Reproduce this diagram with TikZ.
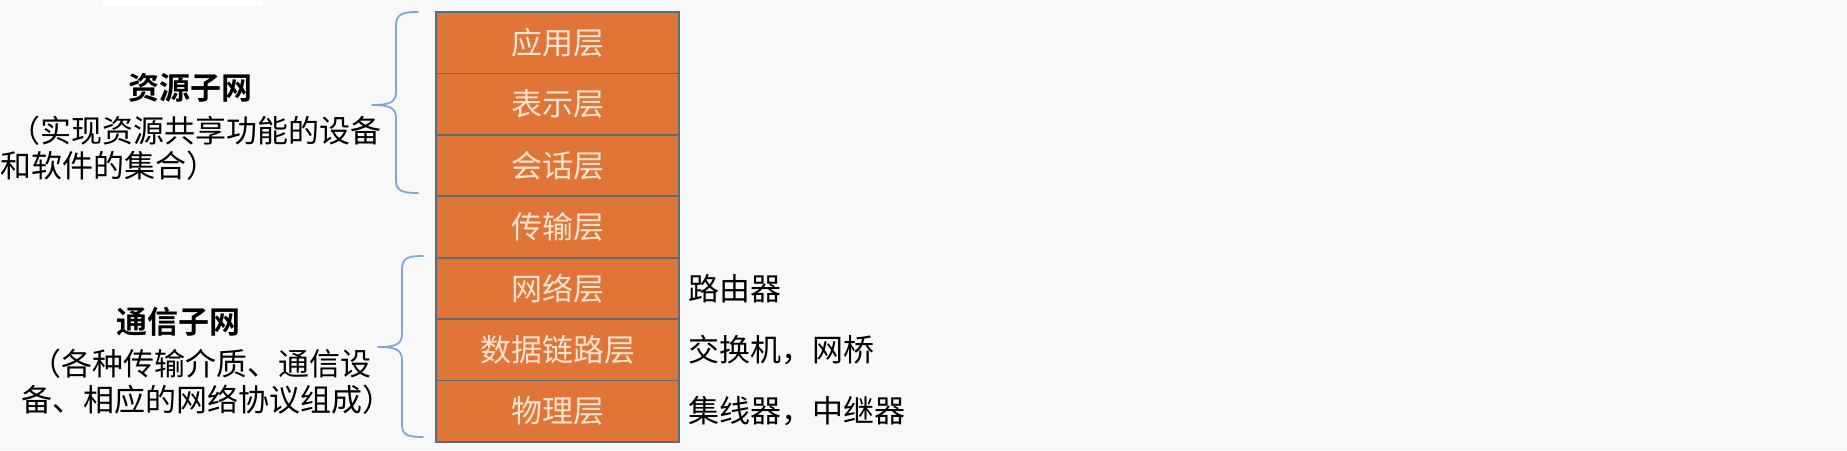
\documentclass[tikz,border=0pt]{standalone}
\usepackage{fontspec}
\setmainfont{Noto Sans CJK SC}[BoldFont={Noto Sans CJK SC Bold}]
\definecolor{layerfill}{RGB}{224,117,55}
\definecolor{layerline}{RGB}{95,107,122}
\definecolor{layertext}{RGB}{252,228,210}
\definecolor{bracecol}{RGB}{125,167,217}
\definecolor{bgcol}{RGB}{248,248,248}
\tikzset{
  layer/.style={draw=layerline, line width=1.8pt, fill=layerfill, minimum width=243pt, minimum height=61.43pt, inner sep=0pt, text=layertext, font=\fontsize{31}{31}\selectfont},
  lbl/.style={inner sep=0pt, text=black, font=\fontsize{31}{31}\selectfont},
  ttl/.style={inner sep=0pt, text=black, font=\fontsize{31}{31}\selectfont\bfseries},
  bracestyle/.style={draw=bracecol, line width=1.8pt, line cap=round, line join=round}
}
\begin{document}
\begin{tikzpicture}[x=1pt,y=-1pt]
\useasboundingbox (0,0) rectangle (1847,450);
\fill[bgcol] (0,0) rectangle (1847,450);
\fill[white] (103,0) rectangle (263,6);
% layers
\foreach \t [count=\i from 0] in {应用层,表示层,会话层,传输层,网络层,数据链路层,物理层}{
  \node[layer] (L\i) at (557.5,{12+61.43*(\i+0.5)}) {\t};
}
% right labels
\node[lbl, anchor=west] (d4) at (688,{12+61.43*4.5}) {路由器};
\node[lbl, anchor=west] (d5) at (688,{12+61.43*5.5}) {交换机，网桥};
\node[lbl, anchor=west] (d6) at (688,{12+61.43*6.5}) {集线器，中继器};
% left texts
\node[ttl] (t1) at (190,88) {资源子网};
\node[lbl, anchor=east] (t1a) at (382,131) {（实现资源共享功能的设备};
\node[lbl, anchor=west] (t1b) at (0,166) {和软件的集合）};
\node[ttl] (t2) at (178,322) {通信子网};
\node[lbl, anchor=east] (t2a) at (372,364) {（各种传输介质、通信设};
\node[lbl, anchor=west] (t2b) at (21,400) {备、相应的网络协议组成）};
% braces
\coordinate (b1t) at (418,12);
\coordinate (b1b) at (418,193);
\coordinate (b1m) at (372,105);
\draw[bracestyle] (b1t) .. controls (402,12) and (396,14) .. (396,26)
  -- (396,92) .. controls (396,102) and (390,105) .. (b1m)
  .. controls (390,105) and (396,108) .. (396,118)
  -- (396,180) .. controls (396,191) and (402,193) .. (b1b);
\coordinate (b2t) at (423,256);
\coordinate (b2b) at (423,437);
\coordinate (b2m) at (378,347);
\draw[bracestyle] (b2t) .. controls (407,256) and (402,258) .. (402,270)
  -- (402,334) .. controls (402,344) and (396,347) .. (b2m)
  .. controls (396,347) and (402,350) .. (402,360)
  -- (402,424) .. controls (402,435) and (407,437) .. (b2b);
\end{tikzpicture}
\end{document}
